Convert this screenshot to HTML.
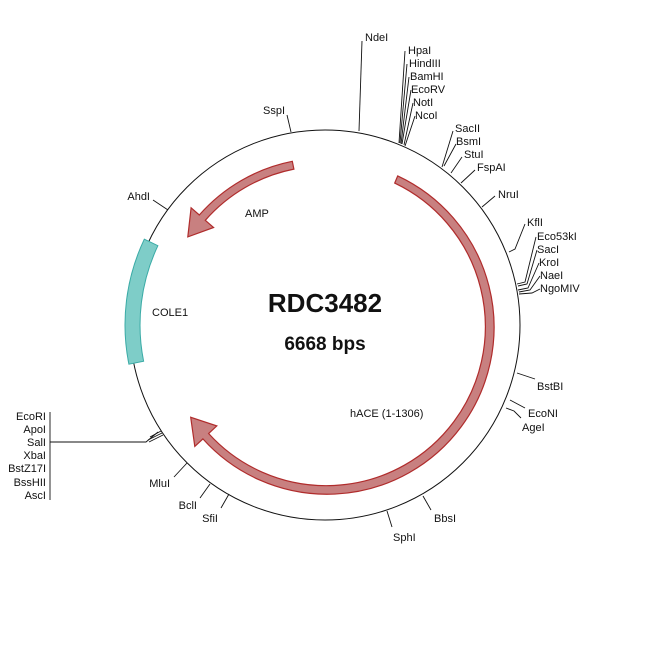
<!DOCTYPE html>
<html><head><meta charset="utf-8"><style>
html,body{margin:0;padding:0;background:#fff}
svg{display:block}
text{font-family:"Liberation Sans",Arial,sans-serif;font-size:11px;fill:#111}
</style></head><body>
<svg width="650" height="650" viewBox="0 0 650 650">
<circle cx="325" cy="325" r="195" fill="none" stroke="#111" stroke-width="1"/>
<!-- teal COLE1 -->
<path d="M128.9,364.2 A200,200 0 0 1 144.3,239.2 L157.9,245.7 A185,185 0 0 0 143.6,361.2 Z" fill="#7ecdc8" stroke="#3aaba6" stroke-width="1"/>
<!-- hACE -->
<path d="M397.7,175.9 A167,167 0 1 1 202.9,438.9 L194.8,446.4 L190.7,417.3 L216.8,425.9 L208.6,433.5 A159,159 0 1 0 394.7,183.1 Z" fill="#c88080" stroke="#b02c2c" stroke-width="1.2"/>
<!-- AMP -->
<path d="M292.3,161.3 A167,167 0 0 0 199.3,215.0 L191.1,207.8 L187.8,236.9 L213.6,227.5 L205.3,220.3 A159,159 0 0 1 293.9,169.1 Z" fill="#c88080" stroke="#b02c2c" stroke-width="1.2"/>

<g stroke="#111" stroke-width="0.9" fill="none">
<line x1="359" y1="131" x2="362" y2="41"/>
<line x1="399" y1="143" x2="405" y2="51"/>
<line x1="400" y1="143" x2="407" y2="64"/>
<line x1="401" y1="144" x2="409" y2="77"/>
<line x1="402" y1="144" x2="411" y2="90"/>
<line x1="404" y1="145" x2="413" y2="103"/>
<line x1="405" y1="146" x2="415" y2="116"/>
<line x1="442" y1="167" x2="453" y2="131"/>
<line x1="444" y1="166" x2="456" y2="144"/>
<line x1="451" y1="173" x2="462" y2="157"/>
<line x1="461" y1="183" x2="475" y2="170"/>
<line x1="482" y1="207" x2="495" y2="196"/>
<polyline points="509,252 515,249 525,224"/>
<polyline points="517,284 525,282 536,237"/>
<polyline points="518,286 527,284 537,250"/>
<polyline points="518,290 528,288 539,263"/>
<polyline points="519,292 530,290 540,276"/>
<polyline points="519,294 532,293 540,289"/>
<line x1="291" y1="132" x2="287" y2="115"/>
<line x1="168" y1="210" x2="153" y2="200"/>
<line x1="517" y1="373" x2="535" y2="379"/>
<line x1="510" y1="400" x2="525" y2="408"/>
<polyline points="506,408 514,411 521,418"/>
<line x1="50" y1="412" x2="50" y2="500"/>
<polyline points="50,442 146,442 158,432"/>
<line x1="148" y1="440" x2="162" y2="433"/>
<line x1="149" y1="442" x2="163" y2="435"/>
<line x1="150" y1="437" x2="161" y2="431"/>
<line x1="187" y1="463" x2="174" y2="477"/>
<line x1="210" y1="484" x2="200" y2="498"/>
<line x1="229" y1="494" x2="221" y2="508"/>
<line x1="387" y1="511" x2="392" y2="527"/>
<line x1="423" y1="496" x2="431" y2="510"/>
</g>

<text x="365" y="41">NdeI</text>
<text x="408" y="54">HpaI</text>
<text x="409" y="67">HindIII</text>
<text x="410" y="80">BamHI</text>
<text x="411" y="93">EcoRV</text>
<text x="413" y="106">NotI</text>
<text x="415" y="119">NcoI</text>
<text x="455" y="132">SacII</text>
<text x="456" y="145">BsmI</text>
<text x="464" y="158">StuI</text>
<text x="477" y="171">FspAI</text>
<text x="498" y="198">NruI</text>
<text x="527" y="226">KflI</text>
<text x="537" y="240">Eco53kI</text>
<text x="537" y="253">SacI</text>
<text x="539" y="266">KroI</text>
<text x="540" y="279">NaeI</text>
<text x="540" y="292">NgoMIV</text>
<text x="285" y="114" text-anchor="end">SspI</text>
<text x="150" y="200" text-anchor="end">AhdI</text>
<text x="537" y="390">BstBI</text>
<text x="528" y="417">EcoNI</text>
<text x="522" y="431">AgeI</text>
<text x="46" y="420" text-anchor="end">EcoRI</text>
<text x="46" y="433" text-anchor="end">ApoI</text>
<text x="46" y="446" text-anchor="end">SalI</text>
<text x="46" y="459" text-anchor="end">XbaI</text>
<text x="46" y="472" text-anchor="end">BstZ17I</text>
<text x="46" y="486" text-anchor="end">BssHII</text>
<text x="46" y="499" text-anchor="end">AscI</text>
<text x="170" y="487" text-anchor="end">MluI</text>
<text x="197" y="509" text-anchor="end">BclI</text>
<text x="218" y="522" text-anchor="end">SfiI</text>
<text x="393" y="541">SphI</text>
<text x="434" y="522">BbsI</text>
<text x="350" y="417">hACE (1-1306)</text>
<text x="245" y="217">AMP</text>
<text x="152" y="316">COLE1</text>
<text x="325" y="312" text-anchor="middle" style="font-size:26px;font-weight:bold">RDC3482</text>
<text x="325" y="350" text-anchor="middle" style="font-size:19px;font-weight:bold">6668 bps</text>
</svg>
</body></html>
